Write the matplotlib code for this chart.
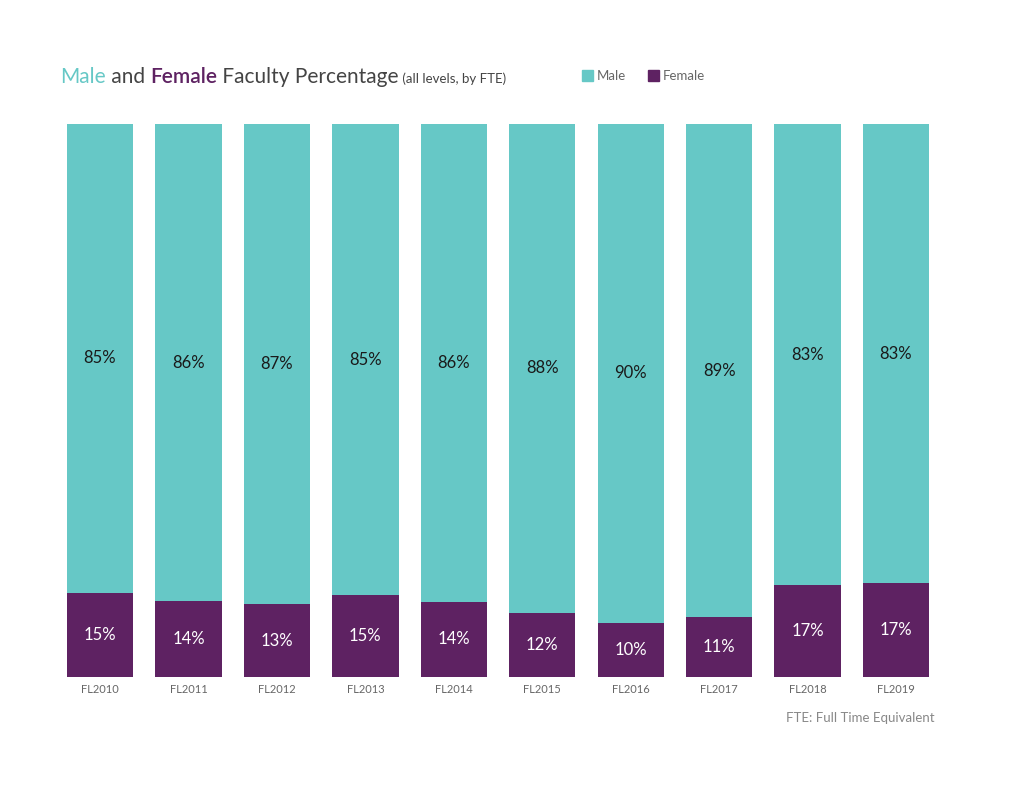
import matplotlib
matplotlib.use("Agg")
import matplotlib.pyplot as plt
import numpy as np
from matplotlib.patches import Rectangle

plt.rcParams["font.family"] = ["Lato", "DejaVu Sans"]

years = ["FL2010", "FL2011", "FL2012", "FL2013", "FL2014",
         "FL2015", "FL2016", "FL2017", "FL2018", "FL2019"]
female = [15.2, 13.7, 13.2, 14.8, 13.6, 11.6, 9.8, 10.8, 16.6, 17.0]
male = [84.8, 86.3, 86.8, 85.2, 86.4, 88.4, 90.2, 89.2, 83.4, 83.0]

MALE_C = "#66c8c6"
FEMALE_C = "#5e2262"
GRAY = "#666666"

fig = plt.figure(figsize=(10.24, 7.91), dpi=100)
ax = fig.add_axes([0.0545, 0.1441, 0.8637, 0.6991])

x = np.arange(len(years))
ax.bar(x, female, width=0.75, color=FEMALE_C)
ax.bar(x, male, width=0.75, bottom=female, color=MALE_C)

for i in range(len(years)):
    ax.text(x[i], female[i] / 2, f"{female[i]:.0f}%", ha="center", va="center",
            color="white", fontsize=12)
    ax.text(x[i], female[i] + male[i] / 2, f"{male[i]:.0f}%", ha="center",
            va="center", color="#1a1a1a", fontsize=12)

ax.set_xlim(-0.5, len(years) - 0.5)
ax.set_ylim(0, 100)
ax.set_xticks(x, years, fontsize=8, color=GRAY)
ax.tick_params(axis="x", length=0, pad=5)
ax.set_yticks([])
for spine in ax.spines.values():
    spine.set_visible(False)

# title pieces in different colours
renderer = fig.canvas.get_renderer()
parts = [("Male", MALE_C, 15, "normal"), (" and ", "#444444", 15, "normal"),
         ("Female", FEMALE_C, 15, "semibold"), (" Faculty Percentage", "#444444", 15, "normal"),
         (" (all levels, by FTE)", "#444444", 9.5, "normal")]
px = 60
base_y = 791 - 83
for txt, col, size, wt in parts:
    t = fig.text(px / 1024, base_y / 791, txt, color=col, fontsize=size, va="baseline",
                 weight=wt)
    px += t.get_window_extent(renderer).width

# legend
fig.patches.append(Rectangle((582 / 1024, (791 - 81) / 791), 11 / 1024, 11 / 791,
                             transform=fig.transFigure, color=MALE_C))
fig.text(597 / 1024, (791 - 76) / 791, "Male", fontsize=9.5, color=GRAY, va="center")
fig.patches.append(Rectangle((648 / 1024, (791 - 81) / 791), 11 / 1024, 11 / 791,
                             transform=fig.transFigure, color=FEMALE_C))
fig.text(663 / 1024, (791 - 76) / 791, "Female", fontsize=9.5, color=GRAY, va="center")

fig.text(935 / 1024, (791 - 718) / 791, "FTE: Full Time Equivalent", fontsize=9.5,
         color="#888888", ha="right", va="center")

fig.savefig("out.png", dpi=100)
